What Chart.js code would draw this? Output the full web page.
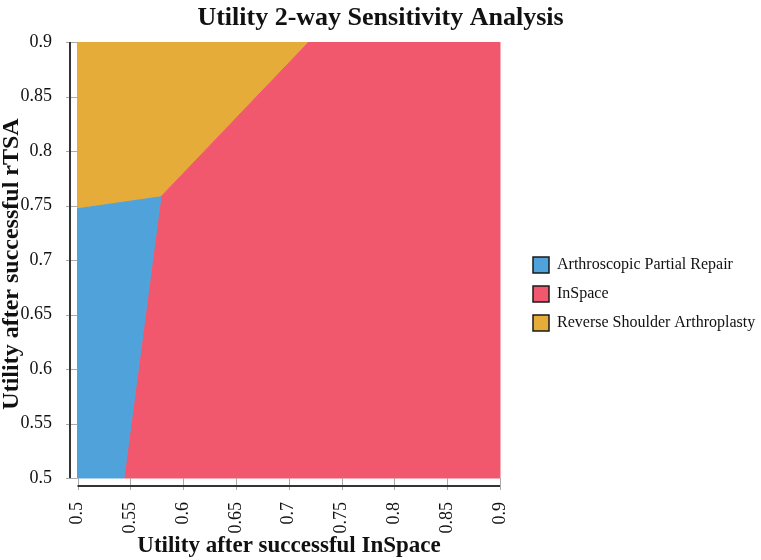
<!DOCTYPE html>
<html lang="en">
<head>
<meta charset="UTF-8">
<title>Utility 2-way Sensitivity Analysis</title>
<script src="https://cdn.jsdelivr.net/npm/chart.js@4.4.1/dist/chart.umd.min.js"></script>
<style>
  html, body { margin: 0; padding: 0; background: #fff; }
  #wrap { width: 761px; height: 560px; }
</style>
</head>
<body>
<div id="wrap"><canvas id="myChart" width="761" height="560"></canvas></div>
<script>
    // strategy names (legend order)
    const strategies = ['Arthroscopic Partial Repair', 'InSpace', 'Reverse Shoulder Arthroplasty'];

    // region corners: x = utility after InSpace, y = utility after rTSA
    const apX = [0.5, 0.544, 0.579, 0.5, 0.5];
    const apY = [0.5, 0.5, 0.758, 0.747, 0.5];
    const inX = [0.544, 0.9, 0.9, 0.719, 0.579, 0.544];
    const inY = [0.5, 0.5, 0.9, 0.9, 0.758, 0.5];
    const rsaX = [0.5, 0.579, 0.719, 0.5, 0.5];
    const rsaY = [0.747, 0.758, 0.9, 0.9, 0.747];

    const tickVals = [0.5, 0.55, 0.6, 0.65, 0.7, 0.75, 0.8, 0.85, 0.9];

    const colors = ['rgb(79, 163, 218)', 'rgb(241, 88, 110)', 'rgb(229, 172, 58)'];

    function pts(xs, ys) {
        return xs.map((x, i) => ({ x: x, y: ys[i] }));
    }

    const serif = "'Liberation Serif', 'Times New Roman', serif";

    // axis lines sit a little away from the plot, only over 0.5 - 0.9
    const axisLines = {
        id: 'axisLines',
        afterDraw(chart) {
            const ctx = chart.ctx;
            const xs = chart.scales.x, ys = chart.scales.y;
            const x0 = xs.getPixelForValue(0.5), x1 = xs.getPixelForValue(0.9);
            const y0 = ys.getPixelForValue(0.5), y1 = ys.getPixelForValue(0.9);
            const ax = chart.chartArea.left, ay = chart.chartArea.bottom;
            ctx.save();
            ctx.strokeStyle = '#aaa';
            ctx.lineWidth = 1;
            tickVals.forEach(v => {
                const py = Math.round(ys.getPixelForValue(v)) + 0.5;
                ctx.beginPath(); ctx.moveTo(ax - 4, py); ctx.lineTo(x0, py); ctx.stroke();
                const px = Math.round(xs.getPixelForValue(v)) + 0.5;
                ctx.beginPath(); ctx.moveTo(px, y0); ctx.lineTo(px, ay + 4); ctx.stroke();
            });
            ctx.strokeStyle = '#333';
            ctx.lineWidth = 2;
            ctx.beginPath(); ctx.moveTo(ax, y0); ctx.lineTo(ax, y1); ctx.stroke();
            ctx.beginPath(); ctx.moveTo(x0, ay); ctx.lineTo(x1, ay); ctx.stroke();
            ctx.restore();
        }
    };

    const ctx = document.getElementById('myChart');

    const chart = new Chart(ctx, {
        type: 'scatter',
        data: {
            datasets: [
                { label: strategies[0], data: pts(apX, apY) },
                { label: strategies[1], data: pts(inX, inY) },
                { label: strategies[2], data: pts(rsaX, rsaY) }
            ].map((d, i) => Object.assign(d, {
                showLine: true,
                fill: 'shape',
                tension: 0,
                pointRadius: 0,
                borderWidth: 1,
                borderColor: colors[i],
                backgroundColor: colors[i]
            }))
        },
        options: {
            responsive: false,
            animation: false,
            events: [],
            layout: { padding: 0 },
            scales: {
                x: {
                    type: 'linear',
                    min: 0.5 - 7.5 / 1056,
                    max: 0.9 + 8 / 1056,
                    afterBuildTicks: s => { s.ticks = tickVals.map(v => ({ value: v })); },
                    afterFit: s => { s.height = 74; },
                    grid: { display: false },
                    border: { display: false },
                    ticks: {
                        minRotation: 90,
                        maxRotation: 90,
                        padding: 8,
                        color: '#111',
                        font: { family: serif, size: 18 },
                        callback: v => String(v)
                    },
                    title: {
                        display: true,
                        text: 'Utility after successful InSpace',
                        color: '#111',
                        font: { family: serif, size: 23, weight: 'bold', lineHeight: 1 },
                        padding: { top: 0, bottom: 2 }
                    }
                },
                y: {
                    type: 'linear',
                    min: 0.5 - 8 / 1090,
                    max: 0.9,
                    afterBuildTicks: s => { s.ticks = tickVals.map(v => ({ value: v })); },
                    afterFit: s => { s.width = 70; },
                    grid: { display: false },
                    border: { display: false },
                    ticks: {
                        padding: 10,
                        color: '#111',
                        font: { family: serif, size: 18 },
                        callback: v => String(v)
                    },
                    title: {
                        display: true,
                        text: 'Utility after successful rTSA',
                        color: '#111',
                        font: { family: serif, size: 24, weight: 'bold', lineHeight: 1 },
                        padding: { top: 0, bottom: 0 }
                    }
                },
                // empty spacer between plot and legend
                gap: {
                    type: 'linear',
                    position: 'right',
                    afterFit: s => { s.width = 12; },
                    grid: { display: false },
                    border: { display: false },
                    ticks: { display: false }
                }
            },
            plugins: {
                title: {
                    display: true,
                    text: 'Utility 2-way Sensitivity Analysis',
                    color: '#111',
                    font: { family: serif, size: 26, weight: 'bold', lineHeight: 1 },
                    padding: { top: 5, bottom: 11 }
                },
                legend: {
                    position: 'right',
                    maxWidth: 241,
                    title: { display: true, text: '', font: { size: 10 }, padding: { top: 8, bottom: 8 } },
                    labels: {
                        boxWidth: 16,
                        boxHeight: 16,
                        padding: 13,
                        color: '#111',
                        font: { family: serif, size: 16 },
                        generateLabels: c => Chart.defaults.plugins.legend.labels.generateLabels(c)
                            .map(l => Object.assign(l, { strokeStyle: '#1a1a1a', lineWidth: 1.5 }))
                    }
                },
                tooltip: { enabled: false }
            }
        },
        plugins: [axisLines]
    });
</script>
</body>
</html>
